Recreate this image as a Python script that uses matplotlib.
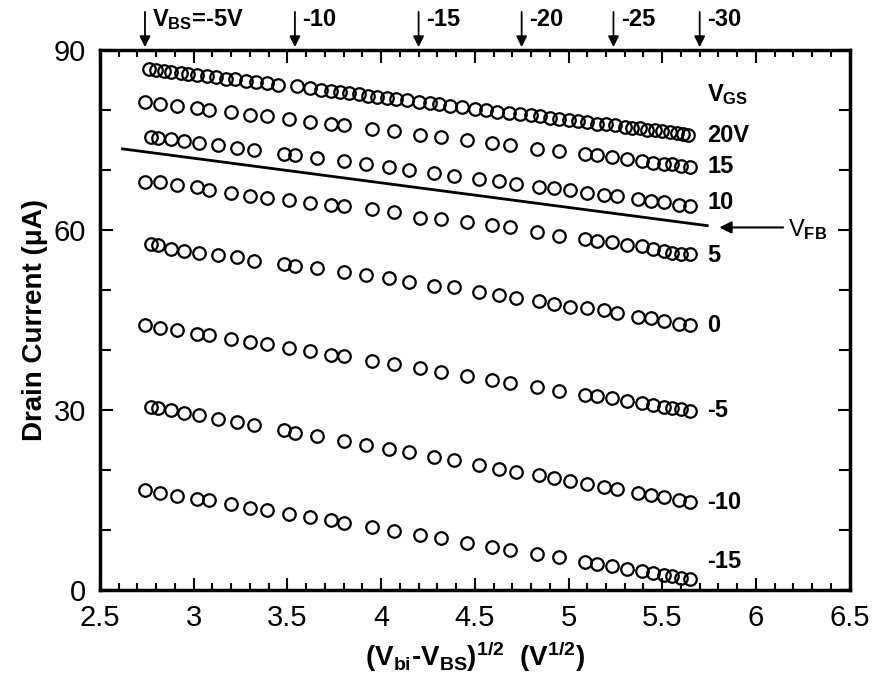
import matplotlib
matplotlib.use("Agg")
import matplotlib.pyplot as plt
from matplotlib.ticker import MultipleLocator

plt.rcParams['font.family'] = ['Liberation Sans', 'DejaVu Sans']
plt.rcParams['mathtext.fontset'] = 'custom'
plt.rcParams['mathtext.rm'] = 'Liberation Sans:bold'
plt.rcParams['mathtext.it'] = 'Liberation Sans:bold'
plt.rcParams['mathtext.bf'] = 'Liberation Sans:bold'

# x positions of the points, sqrt(Vbi - VBS)
x_top = [2.76, 2.80, 2.84, 2.88, 2.93, 2.97, 3.02, 3.07, 3.12, 3.17, 3.22, 3.28, 3.33, 3.39,
         3.45, 3.55, 3.62, 3.68, 3.73, 3.78, 3.83, 3.88, 3.93, 3.98, 4.03, 4.08, 4.14, 4.20,
         4.26, 4.31, 4.37, 4.43, 4.50, 4.56, 4.62, 4.68, 4.74, 4.80, 4.85, 4.90, 4.95, 5.00,
         5.05, 5.10, 5.15, 5.20, 5.25, 5.30, 5.34, 5.38, 5.42, 5.46, 5.50, 5.54, 5.58, 5.61, 5.64]
x_a = [2.74, 2.82, 2.91, 3.02, 3.08, 3.20, 3.30, 3.39, 3.51, 3.62, 3.73, 3.80, 3.95, 4.07, 4.21,
       4.32, 4.46, 4.59, 4.69, 4.83, 4.95, 5.09, 5.15, 5.23, 5.31, 5.39, 5.45, 5.51, 5.55, 5.60, 5.65]
x_b = [2.77, 2.81, 2.88, 2.95, 3.03, 3.13, 3.23, 3.32, 3.48, 3.54, 3.66, 3.80, 3.92, 4.04, 4.15,
       4.28, 4.39, 4.52, 4.63, 4.72, 4.84, 4.92, 5.01, 5.10, 5.19, 5.26, 5.37, 5.44, 5.51, 5.59, 5.65]

# drain current (uA) for each VGS
id_20 = [86.8, 86.6, 86.5, 86.3, 86.2, 86.0, 85.8, 85.7, 85.5, 85.2, 85.1, 84.8, 84.6, 84.4,
         84.2, 83.9, 83.6, 83.3, 83.1, 82.9, 82.8, 82.6, 82.3, 82.2, 82.0, 81.8, 81.6, 81.3,
         81.1, 80.9, 80.7, 80.4, 80.2, 80.0, 79.7, 79.5, 79.3, 79.1, 78.9, 78.7, 78.5, 78.3,
         78.1, 77.9, 77.7, 77.6, 77.4, 77.2, 77.0, 76.9, 76.7, 76.6, 76.4, 76.3, 76.1, 76.0, 75.8]
id_15 = [81.3, 81.0, 80.7, 80.3, 80.0, 79.6, 79.2, 78.9, 78.4, 78.0, 77.6, 77.4, 76.8, 76.4, 75.8,
         75.4, 74.9, 74.4, 74.1, 73.5, 73.1, 72.6, 72.4, 72.1, 71.8, 71.5, 71.2, 71.0, 70.9, 70.7, 70.5]
id_10 = [75.5, 75.3, 75.1, 74.8, 74.5, 74.1, 73.7, 73.3, 72.7, 72.4, 71.9, 71.4, 70.9, 70.4, 70.0,
         69.5, 69.0, 68.5, 68.1, 67.7, 67.2, 66.9, 66.6, 66.2, 65.8, 65.6, 65.1, 64.8, 64.6, 64.2, 64.0]
id_5 = [68.0, 67.9, 67.5, 67.1, 66.7, 66.1, 65.7, 65.3, 64.9, 64.5, 64.2, 64.0, 63.4, 63.0, 61.9,
        61.8, 61.3, 60.8, 60.4, 59.6, 58.9, 58.4, 58.1, 57.9, 57.5, 57.3, 56.8, 56.5, 56.1, 55.9, 55.9]
id_0 = [57.6, 57.4, 56.8, 56.4, 56.1, 55.8, 55.4, 54.8, 54.3, 54.0, 53.6, 53.0, 52.5, 52.0, 51.3,
        50.6, 50.4, 49.7, 49.1, 48.7, 48.2, 47.7, 47.2, 46.9, 46.6, 46.1, 45.5, 45.3, 44.8, 44.3, 44.2]
id_m5 = [44.1, 43.7, 43.3, 42.7, 42.4, 41.8, 41.3, 40.9, 40.3, 39.8, 39.2, 38.9, 38.2, 37.6, 36.9,
         36.3, 35.7, 35.0, 34.5, 33.8, 33.2, 32.5, 32.3, 31.9, 31.5, 31.1, 30.8, 30.5, 30.3, 30.1, 29.8]
id_m10 = [30.5, 30.3, 29.9, 29.5, 29.1, 28.5, 28.0, 27.5, 26.6, 26.2, 25.6, 24.8, 24.2, 23.5, 22.9,
          22.2, 21.6, 20.8, 20.2, 19.7, 19.1, 18.6, 18.1, 17.6, 17.1, 16.8, 16.1, 15.8, 15.4, 14.9, 14.6]
id_m15 = [16.6, 16.2, 15.7, 15.2, 14.9, 14.3, 13.7, 13.3, 12.7, 12.1, 11.6, 11.2, 10.4, 9.8, 9.1,
          8.6, 7.8, 7.2, 6.7, 6.0, 5.4, 4.6, 4.3, 3.9, 3.5, 3.1, 2.8, 2.5, 2.3, 2.0, 1.8]

vgs_labels = ["20V", "15", "10", "5", "0", "-5", "-10", "-15"]
vgs_label_y = [75.8, 70.5, 64.5, 55.8, 44.0, 29.8, 14.6, 4.7]

# flat-band line
vfb_x = [2.62, 5.74]
vfb_y = [73.5, 60.7]

# VBS markers on top axis
vbs_x = [2.74, 3.54, 4.20, 4.75, 5.24, 5.70]
vbs_labels = ["V$_{BS}$=-5V", "-10", "-15", "-20", "-25", "-30"]

fig = plt.figure(figsize=(8.85, 6.93), dpi=100)
ax = fig.add_axes([0.113, 0.149, 0.847, 0.779])

series = [(x_top, id_20), (x_a, id_15), (x_b, id_10), (x_a, id_5),
          (x_b, id_0), (x_a, id_m5), (x_b, id_m10), (x_a, id_m15)]
for xs, ys in series:
    ax.plot(xs, ys, 'o', ms=9, mfc='none', mec='black', mew=1.6)

ax.plot(vfb_x, vfb_y, color='black', lw=2)

for lab, yy in zip(vgs_labels, vgs_label_y):
    ax.text(5.74, yy, lab, fontsize=17, fontweight='bold', va='center', ha='left')
ax.text(5.74, 82.5, "V$_{GS}$", fontsize=17, fontweight='bold', va='center', ha='left')

ax.annotate('', xy=(5.79, 60.4), xytext=(6.16, 60.4),
            arrowprops=dict(arrowstyle='-|>', color='black', lw=1.5, mutation_scale=18))
ax.text(6.17, 60.0, "V$_{FB}$", fontsize=17, va='center', ha='left')

for xv, lab in zip(vbs_x, vbs_labels):
    ax.annotate('', xy=(xv, 90), xytext=(xv, 96.8), annotation_clip=False,
                arrowprops=dict(arrowstyle='-|>', color='black', lw=1.3, mutation_scale=16))
    ax.text(xv + 0.04, 95.0, lab, fontsize=17, fontweight='bold', va='center', ha='left',
            clip_on=False)

ax.set_xlim(2.5, 6.5)
ax.set_ylim(0, 90)
ax.xaxis.set_major_locator(MultipleLocator(0.5))
ax.xaxis.set_minor_locator(MultipleLocator(0.1))
ax.yaxis.set_major_locator(MultipleLocator(30))
ax.yaxis.set_minor_locator(MultipleLocator(10))
ax.set_xticks([2.5, 3, 3.5, 4, 4.5, 5, 5.5, 6, 6.5])
ax.set_xticklabels(["2.5", "3", "3.5", "4", "4.5", "5", "5.5", "6", "6.5"])
ax.tick_params(which='both', direction='in', top=True, right=True, width=1.5)
ax.tick_params(which='major', length=9, labelsize=21, pad=10)
ax.tick_params(which='minor', length=5)
ax.tick_params(axis='y', which='minor', length=8)
for sp in ax.spines.values():
    sp.set_linewidth(2.5)

ax.set_ylabel("Drain Current (\u03bcA)", fontsize=20, fontweight='bold', labelpad=4)
ax.set_xlabel("(V$_{bi}$-V$_{BS}$)$^{1/2}$  (V$^{1/2}$)", fontsize=20, fontweight='bold',
              labelpad=6)

fig.savefig("out.png", dpi=100)
